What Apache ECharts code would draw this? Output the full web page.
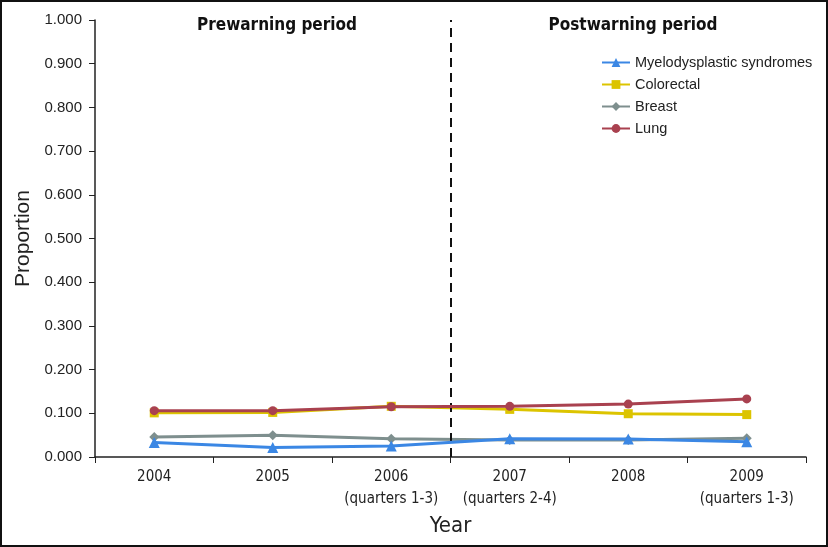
<!DOCTYPE html>
<html>
<head>
<meta charset="utf-8">
<script src="https://cdn.jsdelivr.net/npm/echarts@6/dist/echarts.min.js"></script>
<style>
html,body{margin:0;padding:0;background:#fff;}
#main{width:828px;height:547px;}
</style>
</head>
<body>
<div id="main"></div>
<script>
const categories = ['2004', '2005', '2006\n(quarters 1-3)', '2007\n(quarters 2-4)', '2008', '2009\n(quarters 1-3)'];
const seriesNames = ['Myelodysplastic syndromes', 'Colorectal', 'Breast', 'Lung'];
const mdsValues = [0.033, 0.022, 0.025, 0.042, 0.041, 0.035];
const colorectalValues = [0.101, 0.102, 0.116, 0.109, 0.099, 0.097];
const breastValues = [0.046, 0.050, 0.042, 0.039, 0.039, 0.043];
const lungValues = [0.106, 0.106, 0.115, 0.116, 0.121, 0.133];
const yTicks = [0, 0.1, 0.2, 0.3, 0.4, 0.5, 0.6, 0.7, 0.8, 0.9, 1.0];
const periodSplit = 2.5;
const periodTitles = ['Prewarning period', 'Postwarning period'];

const condensed = 'DejaVu Sans Condensed';
const regular = 'Liberation Sans';

const chart = echarts.init(document.getElementById('main'));
const mk = (name, data, color, symbol, size, z) => ({
  name, type: 'line', data, z,
  symbol, symbolSize: size,
  itemStyle: { color },
  lineStyle: { color, width: 3 },
  emphasis: { disabled: true },
  animation: false
});
chart.setOption({
  animation: false,
  backgroundColor: '#fff',
  title: [
    { text: periodTitles[0], left: 272, top: 12, textAlign: 'center',
      textStyle: { fontFamily: condensed, fontWeight: 'bold', fontSize: 17, color: '#111' } },
    { text: periodTitles[1], left: 628, top: 12, textAlign: 'center',
      textStyle: { fontFamily: condensed, fontWeight: 'bold', fontSize: 17, color: '#111' } }
  ],
  legend: {
    data: seriesNames, orient: 'vertical', left: 596, top: 50,
    itemWidth: 28, itemHeight: 11, itemGap: 7,
    textStyle: { fontFamily: regular, fontSize: 14.5, color: '#222' }
  },
  grid: { left: 95, right: 22, top: 20, bottom: 90, containLabel: false },
  xAxis: [{
    type: 'category', data: categories, boundaryGap: true,
    name: 'Year', nameLocation: 'middle', nameGap: 53,
    nameTextStyle: { fontFamily: condensed, fontSize: 22, color: '#222' },
    axisLine: { lineStyle: { color: '#222', width: 1.5 } },
    axisTick: { show: true, length: 6, lineStyle: { color: '#222' } },
    axisLabel: { fontFamily: condensed, fontSize: 15, color: '#222', margin: 9, lineHeight: 22, interval: 0 }
  }, {
    type: 'value', min: -0.5, max: 5.5, show: false
  }],
  yAxis: {
    type: 'value', min: 0, max: 1, interval: 0.1,
    name: 'Proportion', nameLocation: 'middle', nameGap: 58, nameRotate: 90,
    nameTextStyle: { fontFamily: regular, fontSize: 21, color: '#222' },
    axisLine: { show: true, onZero: false, lineStyle: { color: '#222', width: 1.5 } },
    axisTick: { show: true, length: 6, inside: false, lineStyle: { color: '#222' } },
    splitLine: { show: false },
    axisLabel: { fontFamily: regular, fontSize: 15, color: '#222', margin: 13,
      formatter: v => v.toFixed(3) }
  },
  series: [
    mk(seriesNames[0], mdsValues, '#3b87e4', 'triangle', 11, 5),
    mk(seriesNames[1], colorectalValues, '#dcc400', 'rect', 9, 3),
    mk(seriesNames[2], breastValues, '#7e8f8e', 'diamond', 10, 4),
    mk(seriesNames[3], lungValues, '#a9414f', 'circle', 9, 6),
    {
      type: 'line', xAxisIndex: 1, data: [], silent: true,
      markLine: {
        symbol: 'none', silent: true, animation: false,
        label: { show: false },
        lineStyle: { color: '#111', type: [9, 6], width: 2 },
        data: [{ xAxis: periodSplit }]
      }
    }
  ],
  graphic: [{
    type: 'rect', shape: { x: 1, y: 1, width: 826, height: 545 },
    style: { fill: 'none', stroke: '#111', lineWidth: 2 }, silent: true
  }]
});
</script>
</body>
</html>
